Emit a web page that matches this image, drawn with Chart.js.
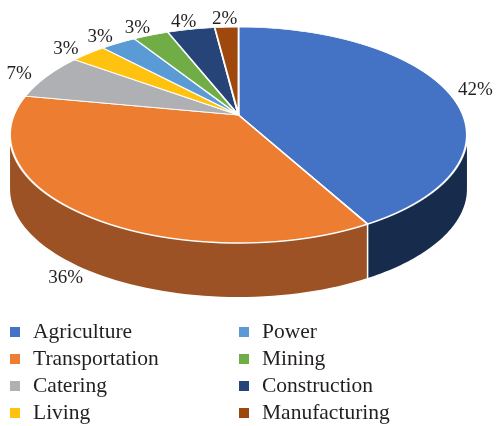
<!DOCTYPE html>
<html>
<head>
<meta charset="utf-8">
<script src="https://cdn.jsdelivr.net/npm/chart.js@4"></script>
<style>
  html, body { margin:0; padding:0; background:#fff; }
  #wrap { width:500px; height:426px; position:relative; }
</style>
</head>
<body>
<div id="wrap"><canvas id="pie"></canvas></div>
<script>
// data
const sectors = ['Agriculture','Transportation','Catering','Living','Power','Mining','Construction','Manufacturing'];
const shares = [42, 36, 7, 3, 3, 3, 4, 2];

// styles
const topColors  = ['#4472c4','#ed7d31','#afb0b3','#ffc20e','#5b9bd5','#70ad47','#264478','#9e480e'];
const sideColors = ['#172b4d','#9d5226','#6e6e70','#a07800','#375f85','#466d2c','#142540','#5e2a08'];
const textColor = '#231f20';
const serif = '"Liberation Serif", "DejaVu Serif", serif';

// perspective of the tilted disc (screen pixels)
const apexY = 115;      // where the centre of the disc lands
const backH = 88;       // apex to far rim
const frontH = 128;     // apex to near rim
const depth = 54;       // thickness of the pie
const persp = (frontH - backH) / (frontH + backH);
const spanA = backH * (1 + persp);

// t = -1 far rim .. +1 near rim ; returns screen y
function screenY(t){ return apexY + spanA * t / (1 - persp * t); }
function tAt(Y){ const d = Y - apexY; return d / (spanA + persp * d); }

const pie3d = {
  id: 'pie3d',
  beforeDatasetsDraw(chart){
    const ctx = chart.ctx;
    const meta = chart.getDatasetMeta(0);
    const arcs = meta.data;
    const {x: x0, y: y0, outerRadius: r} = arcs[0];
    const rim = a => [x0 + r*Math.cos(a) / (1 - persp*Math.sin(a)), screenY(Math.sin(a))];

    // side walls between the two silhouette points
    const aL = Math.asin(persp), aR = Math.PI - aL;
    arcs.forEach((a, i) => {
      [0, 2*Math.PI].forEach(k => {
        const lo = Math.max(a.startAngle, k + aL), hi = Math.min(a.endAngle, k + aR);
        if (hi <= lo) return;
        const n = 60, pts = [];
        for (let j = 0; j <= n; j++) pts.push(rim(lo + (hi - lo)*j/n));
        ctx.beginPath();
        pts.forEach((p, j) => j ? ctx.lineTo(p[0], p[1]) : ctx.moveTo(p[0], p[1]));
        for (let j = n; j >= 0; j--) ctx.lineTo(pts[j][0], pts[j][1] + depth);
        ctx.closePath();
        ctx.fillStyle = sideColors[i];
        ctx.fill();
      });
    });
    ctx.strokeStyle = '#fff';
    ctx.lineWidth = 1.5;
    arcs.forEach(a => {
      const ang = ((a.startAngle % (2*Math.PI)) + 2*Math.PI) % (2*Math.PI);
      if (ang > aL + 0.02 && ang < aR - 0.02) {
        const [px, py] = rim(ang);
        ctx.beginPath(); ctx.moveTo(px, py); ctx.lineTo(px, py + depth); ctx.stroke();
      }
    });

    // top face: let the controller draw the slices strip by strip, each strip with its own local scale
    const top = Math.floor(apexY - backH) - 2, bottom = Math.ceil(apexY + frontH) + 2;
    for (let ys = top; ys < bottom; ys++) {
      let tm = tAt(ys + 0.5);
      tm = Math.max(-1, Math.min(1, tm));
      const sx = 1 / (1 - persp*tm);
      const sy = spanA / (r * (1 - persp*tm) * (1 - persp*tm));
      ctx.save();
      ctx.beginPath();
      ctx.rect(0, ys, chart.width, 1);
      ctx.clip();
      ctx.translate(x0, screenY(tm));
      ctx.scale(sx, sy);
      ctx.translate(-x0, -(y0 + r*tm));
      meta.controller.draw();
      ctx.restore();
    }

    // percentage labels just outside the rim
    ctx.save();
    ctx.font = '19px ' + serif;
    ctx.fillStyle = textColor;
    ctx.textAlign = 'center';
    ctx.textBaseline = 'middle';
    arcs.forEach((a, i) => {
      const m = (a.startAngle + a.endAngle) / 2;
      let [px, py] = rim(m);
      if (Math.sin(m) > persp) py += depth;
      px += 30*Math.cos(m);
      py += 10*Math.sin(m) + 2;
      ctx.fillText(shares[i] + '%', px, py);
    });
    ctx.restore();
    return false;
  },
  afterDraw(chart){
    // two-column legend, filled column by column
    const ctx = chart.ctx;
    ctx.save();
    ctx.font = '21.5px ' + serif;
    ctx.textBaseline = 'middle';
    sectors.forEach((s, i) => {
      const col = Math.floor(i / 4), row = i % 4;
      const bx = 10 + col*229, cy = 332 + row*27;
      ctx.fillStyle = topColors[i];
      ctx.fillRect(bx, cy - 5, 10, 10);
      ctx.fillStyle = textColor;
      ctx.fillText(s, bx + 23, cy);
    });
    ctx.restore();
  }
};

new Chart(document.getElementById('pie'), {
  type: 'pie',
  data: {
    labels: sectors,
    datasets: [{
      data: shares,
      backgroundColor: topColors,
      borderColor: '#fff',
      borderWidth: 2,
      radius: 224.5,
      clip: false
    }]
  },
  options: {
    responsive: true,
    maintainAspectRatio: false,
    animation: false,
    layout: { padding: { left: 14, right: 37, top: 0, bottom: 0 } },
    plugins: { legend: { display: false }, tooltip: { enabled: false } }
  },
  plugins: [pie3d]
});
</script>
</body>
</html>
